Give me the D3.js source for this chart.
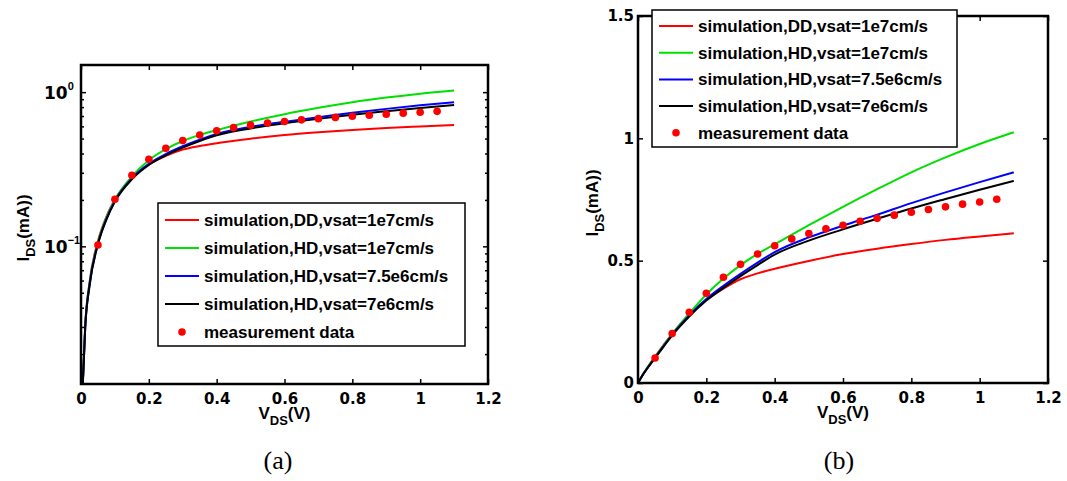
<!DOCTYPE html>
<html><head><meta charset="utf-8">
<script src="https://cdn.jsdelivr.net/npm/d3@7/dist/d3.min.js"></script>
<style>
body{margin:0;background:#fff;}
svg{display:block;}
.tick text{font-family:"DejaVu Sans",sans-serif;font-weight:bold;font-size:15px;fill:#000;}
</style></head>
<body>
<svg id="chart" width="1067" height="481"></svg>
<script>
// ---- data ----
const vSim = [0, 0.005, 0.0125, 0.025, 0.05, 0.075, 0.1, 0.15, 0.2, 0.25, 0.3, 0.35, 0.4, 0.5, 0.6, 0.7, 0.8, 0.9, 1.0, 1.1];
const iDD_1e7   = [0, 0.0125, 0.031, 0.058, 0.108, 0.156, 0.201, 0.280, 0.340, 0.386, 0.424, 0.448, 0.467, 0.499, 0.527, 0.549, 0.568, 0.585, 0.599, 0.612];
const iHD_1e7   = [0, 0.0125, 0.031, 0.057, 0.106, 0.154, 0.200, 0.284, 0.362, 0.427, 0.482, 0.528, 0.567, 0.645, 0.720, 0.792, 0.861, 0.922, 0.977, 1.025];
const iHD_75e6  = [0, 0.0124, 0.030, 0.056, 0.104, 0.151, 0.197, 0.276, 0.343, 0.397, 0.446, 0.492, 0.535, 0.595, 0.643, 0.688, 0.735, 0.779, 0.821, 0.861];
const iHD_7e6   = [0, 0.0123, 0.030, 0.055, 0.103, 0.149, 0.195, 0.272, 0.337, 0.389, 0.437, 0.482, 0.525, 0.582, 0.628, 0.671, 0.713, 0.752, 0.790, 0.826];
const vMeas = [0.05, 0.10, 0.15, 0.20, 0.25, 0.30, 0.35, 0.40, 0.45, 0.50, 0.55, 0.60, 0.65, 0.70, 0.75, 0.80, 0.85, 0.90, 0.95, 1.00, 1.05];
const iMeas = [0.102, 0.202, 0.289, 0.367, 0.432, 0.485, 0.527, 0.561, 0.589, 0.611, 0.630, 0.645, 0.661, 0.673, 0.686, 0.698, 0.709, 0.720, 0.731, 0.740, 0.751];

const seriesNames = ["simulation,DD,vsat=1e7cm/s","simulation,HD,vsat=1e7cm/s","simulation,HD,vsat=7.5e6cm/s","simulation,HD,vsat=7e6cm/s"];
const seriesValues = [iDD_1e7, iHD_1e7, iHD_75e6, iHD_7e6];
const seriesColors = ["#ff0000","#00e000","#0000ff","#000000"];
const measName = "measurement data";
const measColor = "#ff0000";

const xTicks = [0, 0.2, 0.4, 0.6, 0.8, 1.0, 1.2];
const xTickLabels = ["0","0.2","0.4","0.6","0.8","1","1.2"];
const yLinTicks = [0, 0.5, 1.0, 1.5];
const yLinTickLabels = ["0","0.5","1","1.5"];
const yLogTicks = [0.1, 1];
const yLogExp = ["\u22121","0"];
const yLogDomain = [0.0128, 1.5];
const captions = ["(a)","(b)"];

const svg = d3.select("#chart");

function panel(opts){
  const {x0,x1,y0,y1,log,id} = opts;
  const x = d3.scaleLinear().domain([0,1.2]).range([x0,x1]);
  const y = log ? d3.scaleLog().domain(yLogDomain).range([y1,y0])
                : d3.scaleLinear().domain([0,1.5]).range([y1,y0]);
  const g = svg.append("g");
  g.append("clipPath").attr("id","clip"+id).append("rect")
    .attr("x",x0).attr("y",y0).attr("width",x1-x0).attr("height",y1-y0);

  g.append("g").attr("transform",`translate(0,${y1})`)
    .call(d3.axisBottom(x).tickValues(xTicks).tickFormat((d,i)=>xTickLabels[i]).tickSize(-5).tickPadding(9));
  g.append("g").attr("transform",`translate(0,${y0})`)
    .call(d3.axisTop(x).tickValues(xTicks).tickFormat("").tickSize(-5));
  if(log){
    const minor = y.ticks().filter(d=>yLogTicks.indexOf(d)<0);
    [[d3.axisLeft,x0],[d3.axisRight,x1]].forEach(([fn,px])=>{
      g.append("g").attr("transform",`translate(${px},0)`).call(fn(y).tickValues(yLogTicks).tickFormat("").tickSize(-5));
      g.append("g").attr("transform",`translate(${px},0)`).call(fn(y).tickValues(minor).tickFormat("").tickSize(-3));
    });
    yLogTicks.forEach((t,i)=>{
      const tx = g.append("text").attr("x",44).attr("y",y(t)+7)
        .style("font-family","DejaVu Sans, sans-serif").style("font-weight","bold").style("font-size","17px");
      tx.append("tspan").text("10");
      tx.append("tspan").attr("dy",-9).style("font-size","11px")
        .style("font-family","Liberation Sans, Arial, sans-serif").text(yLogExp[i]);
    });
  } else {
    g.append("g").attr("transform",`translate(${x0},0)`)
      .call(d3.axisLeft(y).tickValues(yLinTicks).tickFormat((d,i)=>yLinTickLabels[i]).tickSize(-5).tickPadding(4));
    g.append("g").attr("transform",`translate(${x1},0)`)
      .call(d3.axisRight(y).tickValues(yLinTicks).tickFormat("").tickSize(-5));
  }
  g.selectAll(".domain").remove();
  g.selectAll(".tick line").attr("stroke","#000").attr("stroke-width",1.5);

  const cg = g.append("g").attr("clip-path",`url(#clip${id})`);
  seriesValues.forEach((vals,k)=>{
    const pts = vSim.map((v,i)=>[v,vals[i]]).filter(p=>!log || p[1]>0);
    cg.append("path").datum(pts)
      .attr("fill","none").attr("stroke",seriesColors[k]).attr("stroke-width",2)
      .attr("d",d3.line().x(d=>x(d[0])).y(d=>y(d[1])).curve(d3.curveMonotoneX));
  });
  cg.selectAll("circle.m").data(vMeas.map((v,i)=>[v,iMeas[i]])).enter().append("circle")
    .attr("cx",d=>x(d[0])).attr("cy",d=>y(d[1])).attr("r",3.8).attr("fill",measColor);

  g.append("rect").attr("x",x0).attr("y",y0).attr("width",x1-x0).attr("height",y1-y0)
    .attr("fill","none").attr("stroke","#000").attr("stroke-width",2.5);

  const xl = g.append("text").attr("x",(x0+x1)/2).attr("y",opts.xLabelY).attr("text-anchor","middle")
    .style("font-family","Liberation Sans, Arial, sans-serif").style("font-weight","bold").style("font-size","17px");
  xl.append("tspan").text("V");
  xl.append("tspan").attr("dy",6).style("font-size","13px").text("DS");
  xl.append("tspan").attr("dy",-6).text("(V)");

  const yl = g.append("text").attr("transform",`translate(${opts.yLabelX},${opts.yLabelY}) rotate(-90)`).attr("text-anchor","middle")
    .style("font-family","Liberation Sans, Arial, sans-serif").style("font-weight","bold").style("font-size","17px");
  yl.append("tspan").text("I");
  yl.append("tspan").attr("dy",6).style("font-size","13px").text("DS");
  yl.append("tspan").attr("dy",-6).text("(mA))");

  const L = opts.legend;
  const lg = g.append("g");
  lg.append("rect").attr("x",L.x).attr("y",L.y).attr("width",L.w).attr("height",L.h)
    .attr("fill","#fff").attr("stroke","#000").attr("stroke-width",1.5);
  const names = seriesNames.concat([measName]);
  names.forEach((nm,k)=>{
    const cy = L.y + L.first + k*L.step;
    if(k<4){
      lg.append("line").attr("x1",L.x+7).attr("x2",L.x+41).attr("y1",cy).attr("y2",cy)
        .attr("stroke",seriesColors[k]).attr("stroke-width",2);
    } else {
      lg.append("circle").attr("cx",L.x+24).attr("cy",cy).attr("r",3.8).attr("fill",measColor);
    }
    lg.append("text").attr("x",L.x+46).attr("y",cy+6)
      .style("font-family","Liberation Sans, Arial, sans-serif").style("font-weight","bold").style("font-size","17px")
      .text(nm);
  });

  svg.append("text").attr("x",opts.capX).attr("y",469).attr("text-anchor","middle")
    .style("font-family","Liberation Serif, serif").style("font-size","26px").text(captions[id]);
}

panel({id:0,x0:81,x1:488,y0:65,y1:384,log:true,xLabelY:419,yLabelX:29,yLabelY:228,capX:278,
  legend:{x:158,y:203,w:307,h:143,first:17,step:28}});
panel({id:1,x0:638,x1:1048,y0:16,y1:383,log:false,xLabelY:418,yLabelX:598,yLabelY:203,capX:839,
  legend:{x:652,y:10,w:305,h:137,first:16,step:26.7}});
</script>
</body></html>
